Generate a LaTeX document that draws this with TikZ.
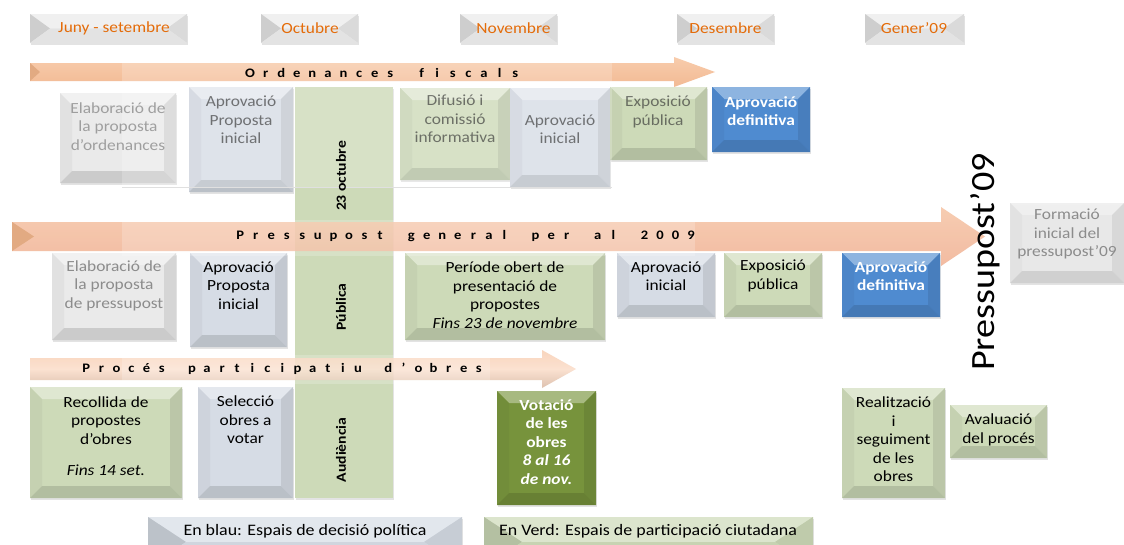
\documentclass[tikz,border=0pt]{standalone}
\usepackage{fontspec}
\setmainfont{Carlito}[FakeStretch=1.12]
\usetikzlibrary{calc,shadows}
\definecolor{cgreen}{RGB}{205,218,184}
\definecolor{cblue}{RGB}{214,220,229}
\definecolor{cgrey}{RGB}{234,234,234}
\definecolor{cstrong}{RGB}{79,139,208}
\definecolor{cdark}{RGB}{119,147,60}
\definecolor{ctab}{RGB}{234,234,234}
\definecolor{corange}{RGB}{228,108,10}
\definecolor{cgtext}{RGB}{140,140,140}
\definecolor{cpeach}{RGB}{249,206,178}
\definecolor{cpeachd}{RGB}{226,170,130}
\definecolor{ordtop}{RGB}{248,204,172}
\definecolor{ordmid}{RGB}{253,240,230}
\definecolor{ordbot}{RGB}{242,186,148}
\definecolor{prtop}{RGB}{246,196,164}
\definecolor{prmid}{RGB}{250,218,200}
\definecolor{prbot}{RGB}{240,176,146}
\makeatletter
\newcommand\spreadtext[2]{\@tfor\spr@c:=#2\do{\makebox[#1][c]{\spr@c}}}
\makeatother
\begin{document}
\begin{tikzpicture}[x=1pt,y=-1pt,
  box/.style={draw=none, inner sep=0pt, outer sep=0pt,
    drop shadow={shadow xshift=1pt, shadow yshift=-2pt, opacity=.22}},
  bev/.style args={#1/#2/#3}{fill=#1, path picture={
    \coordinate (bvnw) at (path picture bounding box.north west);
    \coordinate (bvne) at (path picture bounding box.north east);
    \coordinate (bvsw) at (path picture bounding box.south west);
    \coordinate (bvse) at (path picture bounding box.south east);
    \coordinate (bvinw) at ($(bvnw)+(#2pt,-#3pt)$);
    \coordinate (bvine) at ($(bvne)+(-#2pt,-#3pt)$);
    \coordinate (bvisw) at ($(bvsw)+(#2pt,#3pt)$);
    \coordinate (bvise) at ($(bvse)+(-#2pt,#3pt)$);
    \fill[#1!65!white] (bvnw)--(bvne)--(bvine)--(bvinw)--cycle;
    \fill[#1!96!black] (bvnw)--(bvinw)--(bvisw)--(bvsw)--cycle;
    \fill[#1!91!black] (bvne)--(bvine)--(bvise)--(bvse)--cycle;
    \fill[#1!87!black] (bvsw)--(bvisw)--(bvise)--(bvse)--cycle;
  }},
  tbev/.style args={#1/#2/#3}{fill=#1, path picture={
    \coordinate (bvnw) at (path picture bounding box.north west);
    \coordinate (bvne) at (path picture bounding box.north east);
    \coordinate (bvsw) at (path picture bounding box.south west);
    \coordinate (bvse) at (path picture bounding box.south east);
    \coordinate (bvinw) at ($(bvnw)+(#2pt,-#3pt)$);
    \coordinate (bvine) at ($(bvne)+(-#2pt,-#3pt)$);
    \coordinate (bvisw) at ($(bvsw)+(#2pt,#3pt)$);
    \coordinate (bvise) at ($(bvse)+(-#2pt,#3pt)$);
    \fill[#1!70!white] (bvnw)--(bvne)--(bvine)--(bvinw)--cycle;
    \fill[#1!88!black] (bvnw)--(bvinw)--(bvisw)--(bvsw)--cycle;
    \fill[#1!93!black] (bvne)--(bvine)--(bvise)--(bvse)--cycle;
    \fill[#1!97!black] (bvsw)--(bvisw)--(bvise)--(bvse)--cycle;
  }},
  txt/.style={font=\fontsize{15.5}{18.5}\selectfont, align=center, inner sep=0pt},
  btxt/.style={txt, font=\fontsize{15.5}{18.5}\selectfont\bfseries, text=white},
  gtxt/.style={txt, text=cgtext},
  ftxt/.style={txt, text=black!80, opacity=.65},
  tabtxt/.style={font=\fontsize{15.5}{18}\selectfont, text=corange, inner sep=0pt},
  legtxt/.style={font=\fontsize{16}{19}\selectfont, inner sep=0pt},
  coltxt/.style={font=\fontsize{14}{16}\selectfont\bfseries, rotate=90, inner sep=0pt},
  arrtxt/.style={font=\fontsize{13}{15}\selectfont\bfseries, anchor=west, inner sep=0pt, text=black}
]
\useasboundingbox (0,0) rectangle (1124,544);
\clip (0,0) rectangle (1124,544);
\fill[white] (0,0) rectangle (1124,544);

% month tabs
\node[box, tbev=ctab/20/14.5, minimum width=157pt, minimum height=29pt] (tJ) at (108.5,28.5) {};
\node[box, tbev=ctab/20/14.5, minimum width=97pt, minimum height=29pt] (tO) at (309.5,28.5) {};
\node[box, tbev=ctab/20/14.5, minimum width=97pt, minimum height=29pt] (tN) at (508.5,28.5) {};
\node[box, tbev=ctab/20/14.5, minimum width=97pt, minimum height=29pt] (tD) at (725.5,28.5) {};
\node[box, tbev=ctab/20/14.5, minimum width=99pt, minimum height=29pt] (tG) at (914.5,28.5) {};

% green column
\node[box, fill=cgreen, minimum width=98pt, minimum height=411pt] (col) at (344,292.5) {};

% arrows
\shade[top color=ordtop, middle color=ordmid, bottom color=ordbot]
  (30,63) -- (674,63) -- (674,57) -- (715,72) -- (674,87) -- (674,81) -- (30,81) -- cycle;
\fill[cpeachd] (30,63) -- (40,72) -- (30,81) -- cycle;
\shade[top color=prtop, middle color=prmid, bottom color=prbot, opacity=.85]
  (12,222) -- (941,222) -- (941,207) -- (985,236.5) -- (941,266) -- (941,251) -- (12,251) -- cycle;
\fill[cpeachd] (12,222) -- (34,236.5) -- (12,251) -- cycle;
\shade[top color=cpeach, bottom color=cpeach!85!black!90, middle color=cpeach!70!white, opacity=.85]
  (30,358) -- (542,358) -- (542,350) -- (576,369) -- (542,388) -- (542,380) -- (30,380) -- cycle;

% row 1 boxes
\node[box, bev=cgrey/12/12, minimum width=116pt, minimum height=90pt] (r1el) at (118,138) {};
\node[box, bev=cblue/12/12, minimum width=104pt, minimum height=105pt] (r1ap) at (241,139.5) {};
\node[box, bev=cgreen/12/12, minimum width=110pt, minimum height=92pt] (r1di) at (455,134) {};
\node[box, bev=cblue/12/12, minimum width=100pt, minimum height=99pt] (r1ai) at (560,137.5) {};
\node[box, bev=cgreen/12/12, minimum width=97pt, minimum height=73pt] (r1ex) at (658.5,123.5) {};
\node[box, bev=cstrong/12/12, minimum width=98pt, minimum height=65pt] (r1ad) at (761,119.5) {};

% row 2 boxes
\node[box, bev=cgrey/12/12, minimum width=124pt, minimum height=87pt] (r2el) at (114,296.5) {};
\node[box, bev=cblue/12/12, minimum width=97pt, minimum height=94pt] (r2ap) at (238.5,300) {};
\node[box, bev=cgreen/12/12, minimum width=200pt, minimum height=87pt] (r2pe) at (505,296.5) {};
\node[box, bev=cblue/12/12, minimum width=98pt, minimum height=64pt] (r2ai) at (666,285) {};
\node[box, bev=cgreen/12/12, minimum width=98pt, minimum height=64pt] (r2ex) at (773,285) {};
\node[box, bev=cstrong/12/12, minimum width=98pt, minimum height=64pt] (r2ad) at (891,285) {};
\node[box, bev=cgrey/12/12, minimum width=114pt, minimum height=80pt, opacity=.8] (r2fo) at (1067,243) {};

% row 3 boxes
\node[box, bev=cgreen/12/12, minimum width=152pt, minimum height=111pt] (r3re) at (106,442.5) {};
\node[box, bev=cblue/12/12, minimum width=95pt, minimum height=111pt] (r3se) at (245.5,442.5) {};
\node[box, bev=cdark/12/12, minimum width=99pt, minimum height=114pt] (r3vo) at (546.5,448) {};
\node[box, bev=cgreen/12/12, minimum width=103pt, minimum height=110pt] (r3rz) at (893.5,443) {};
\node[box, bev=cgreen/12/12, minimum width=97pt, minimum height=53pt] (r3av) at (998.5,431.5) {};

% legends
\node[box, tbev=cblue/38/25, minimum width=314pt, minimum height=50pt] (leg1) at (305,542) {};
\node[box, tbev=cgreen/38/25, minimum width=329pt, minimum height=50pt] (leg2) at (648.5,542) {};

% washed overlays
\fill[white, opacity=.2] (122,60) rectangle (612,187);
\draw[black!12] (122,187) -- (612,187);
\fill[white, opacity=.2] (122,220) rectangle (695,256);
\fill[white, opacity=.2] (122,355) rectangle (490,384);

% tab texts
\node[tabtxt] (tJt) at (114,28) {Juny - setembre};
\node[tabtxt] (tOt) at (310,28) {Octubre};
\node[tabtxt] (tNt) at (513.5,28) {Novembre};
\node[tabtxt] (tDt) at (725.5,28) {Desembre};
\node[tabtxt] (tGt) at (914,28) {Gener’09};

% arrow texts
\node[arrtxt] (ordT) at (242,73) {\spreadtext{15.6pt}{Ordenances~fiscals}};
\node[arrtxt] (preT) at (232.2,236.5) {\spreadtext{15.55pt}{Pressupost~general~per~al~2009}};
\node[arrtxt] (proT) at (78.5,369) {\spreadtext{15.1pt}{Procés~participatiu~d’obres}};

% column texts
\node[coltxt] (c1t) at (341,176) {23 octubre};
\node[coltxt] (c2t) at (341,307) {Pública};
\node[coltxt] (c3t) at (341,450) {Audiència};

% row 1 texts
\node[gtxt, opacity=.8] (r1elT) at (118,126.5) {Elaboració de\\la proposta\\d’ordenances};
\node[ftxt] (r1apT) at (241,120) {Aprovació\\Proposta\\inicial};
\node[ftxt] (r1diT) at (455,119) {Difusió i\\comissió\\informativa};
\node[ftxt] (r1aiT) at (560,129) {Aprovació\\inicial};
\node[ftxt] (r1exT) at (658,112) {Exposició\\pública};
\node[btxt] (r1adT) at (761,111) {Aprovació\\definitiva};

% row 2 texts
\node[gtxt] (r2elT) at (114,285.5) {Elaboració de\\la proposta\\de pressupost};
\node[txt] (r2apT) at (238.5,285.5) {Aprovació\\Proposta\\inicial};
\node[txt] (r2peT) at (505,295) {Període obert de\\presentació de\\propostes\\\textit{Fins 23 de novembre}};
\node[txt] (r2aiT) at (666,276) {Aprovació\\inicial};
\node[txt] (r2exT) at (773,276) {Exposició\\pública};
\node[btxt] (r2adT) at (891,276) {Aprovació\\definitiva};
\node[gtxt] (r2foT) at (1067,234) {Formació\\inicial del\\pressupost’09};

% row 3 texts
\node[txt] (r3reT) at (106,436) {Recollida de\\propostes\\d’obres\\[13pt]\textit{Fins 14 set.}};
\node[txt] (r3seT) at (245.5,420) {Selecció\\obres a\\votar};
\node[btxt] (r3voT) at (546.5,442) {Votació\\de les\\obres\\\textit{8 al 16}\\\textit{de nov.}};
\node[txt] (r3rzT) at (893.5,439.5) {Realització\\i\\seguiment\\de les\\obres};
\node[txt] (r3avT) at (998.5,430) {Avaluació\\del procés};

% legend texts
\node[legtxt] (leg1T) at (305,531) {En blau: Espais de decisió política};
\node[legtxt] (leg2T) at (648,531) {En Verd: Espais de participació ciutadana};

% big vertical label
\node[font=\fontsize{34}{40}\selectfont, rotate=90, inner sep=0pt] (p09) at (985,262) {Pressupost’09};
\end{tikzpicture}
\end{document}
